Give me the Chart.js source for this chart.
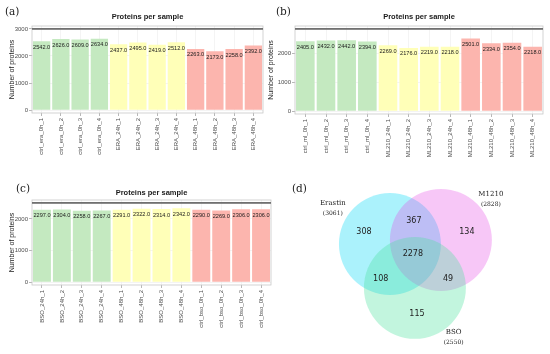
<!DOCTYPE html>
<html>
<head>
<meta charset="utf-8">
<script src="https://cdn.jsdelivr.net/npm/chart.js@4.4.0/dist/chart.umd.min.js"></script>
<style>
  html, body { margin: 0; padding: 0; background: #fff; }
  #wrap { position: relative; width: 550px; height: 354px; overflow: hidden; }
  canvas { position: absolute; }
  .tag { position: absolute; font-family: 'DejaVu Serif', serif; font-size: 10.5px; color: #222; line-height: 1; }
</style>
</head>
<body>
<div id="wrap">
  <canvas id="chartA" width="272" height="160" style="left:0;top:0"></canvas>
  <canvas id="chartB" width="284" height="160" style="left:266px;top:0"></canvas>
  <canvas id="chartC" width="280" height="184" style="left:0;top:170px"></canvas>
  <canvas id="venn" width="260" height="179" style="left:290px;top:175px"></canvas>
  <div class="tag" style="left:5px;top:6px">(a)</div>
  <div class="tag" style="left:276px;top:6px">(b)</div>
  <div class="tag" style="left:16px;top:183px">(c)</div>
  <div class="tag" style="left:292px;top:183px">(d)</div>
</div>
<script>
// --- data ---
const labelsA = ['ctrl_era_0h_1', 'ctrl_era_0h_2', 'ctrl_era_0h_3', 'ctrl_era_0h_4',
                 'ERA_24h_1', 'ERA_24h_2', 'ERA_24h_3', 'ERA_24h_4',
                 'ERA_48h_1', 'ERA_48h_2', 'ERA_48h_3', 'ERA_48h_4'];
const valuesA = [2542, 2626, 2609, 2634, 2437, 2495, 2419, 2512, 2263, 2173, 2258, 2392];

const labelsB = ['ctrl_ml_0h_1', 'ctrl_ml_0h_2', 'ctrl_ml_0h_3', 'ctrl_ml_0h_4',
                 'ML210_24h_1', 'ML210_24h_2', 'ML210_24h_3', 'ML210_24h_4',
                 'ML210_48h_1', 'ML210_48h_2', 'ML210_48h_3', 'ML210_48h_4'];
const valuesB = [2405, 2432, 2442, 2394, 2269, 2176, 2219, 2218, 2501, 2334, 2354, 2218];

const labelsC = ['BSO_24h_1', 'BSO_24h_2', 'BSO_24h_3', 'BSO_24h_4',
                 'BSO_48h_1', 'BSO_48h_2', 'BSO_48h_3', 'BSO_48h_4',
                 'ctrl_bso_0h_1', 'ctrl_bso_0h_2', 'ctrl_bso_0h_3', 'ctrl_bso_0h_4'];
const valuesC = [2297, 2304, 2258, 2267, 2291, 2322, 2314, 2342, 2290, 2269, 2306, 2306];

const yTickValues = [0, 1000, 2000, 3000];

// venn: set names, then region counts
const vennNames = ['Erastin', 'M1210', 'BSO'];
const onlyCounts = [308, 134, 115];           // E, M, B
const pairCounts = [367, 108, 49];            // E&M, E&B, M&B
const allCount = 2278;                        // E&M&B

const groupColors = ['#c4e9c0', '#ffffb8', '#fcb5ae'];
const barColors = [0,0,0,0,1,1,1,1,2,2,2,2].map(i => groupColors[i]);

const sans = "'Liberation Sans', Arial, sans-serif";

// titre + bordure du panneau + etiquettes de valeur
const panelPlugin = {
    id: 'panel',
    afterDatasetsDraw(chart, args, opts) {
        const ctx = chart.ctx;
        const a = chart.chartArea;
        ctx.save();
        // valeurs sur les barres
        ctx.font = '5.6px ' + sans;
        ctx.fillStyle = '#1a1a1a';
        ctx.textAlign = 'center';
        ctx.textBaseline = 'middle';
        const meta = chart.getDatasetMeta(0);
        meta.data.forEach((bar, i) => {
            const v = chart.data.datasets[0].data[i];
            ctx.fillText(v.toFixed(1), bar.x, bar.y + 6);
        });
        // bordure
        ctx.strokeStyle = '#c8c8c8';
        ctx.lineWidth = 0.8;
        ctx.strokeRect(a.left, a.top, a.right - a.left, a.bottom - a.top);
        ctx.fillStyle = '#707070';
        ctx.fillRect(a.left, a.top + 2, a.right - a.left, 1.8);
        // titre
        ctx.font = 'bold 7.5px ' + sans;
        ctx.fillStyle = '#1a1a1a';
        ctx.fillText(opts.title, (a.left + a.right) / 2, opts.titleY);
        ctx.restore();
    }
};

function barPanel(id, labels, values, cfg) {
    new Chart(document.getElementById(id), {
        type: 'bar',
        data: {
            labels: labels,
            datasets: [{
                data: values,
                backgroundColor: barColors,
                borderWidth: 0,
                barPercentage: 0.9,
                categoryPercentage: 1.0
            }]
        },
        options: {
            responsive: false,
            animation: false,
            events: [],
            layout: { padding: { left: 0, right: cfg.padRight, top: cfg.padTop, bottom: 0 } },
            plugins: {
                legend: { display: false },
                tooltip: { enabled: false },
                panel: { title: 'Proteins per sample', titleY: cfg.titleY }
            },
            scales: {
                x: {
                    offset: true,
                    grid: { offset: false, color: '#ececec', lineWidth: 0.6, tickLength: 3, tickColor: '#888', tickWidth: 0.6 },
                    border: { display: false },
                    ticks: { autoSkip: false, maxRotation: 90, minRotation: 90, padding: 2,
                             font: { size: 6, family: sans }, color: '#4d4d4d' },
                    afterFit: s => { s.height = cfg.xHeight; }
                },
                y: {
                    min: cfg.yMin,
                    max: cfg.yMax,
                    grid: { color: '#ececec', lineWidth: 0.6, tickLength: 3, tickColor: '#888', tickWidth: 0.6 },
                    border: { display: false },
                    ticks: { padding: 1, font: { size: 6, family: sans }, color: '#4d4d4d',
                             callback: v => String(v) },
                    afterBuildTicks: s => {
                        s.ticks = yTickValues.filter(v => v >= s.min && v <= s.max).map(v => ({ value: v }));
                    },
                    title: { display: true, text: 'Number of proteins', color: '#1a1a1a',
                             font: { size: 7, family: sans }, padding: { top: cfg.yTitlePad, bottom: 0 } },
                    afterFit: s => { s.width = cfg.yWidth; }
                }
            }
        },
        plugins: [panelPlugin]
    });
}

barPanel('chartA', labelsA, valuesA, { padRight: 9, padTop: 26, xHeight: 47, yWidth: 32, yMin: -110, yMax: 3110, titleY: 17, yTitlePad: 7.8 });
barPanel('chartB', labelsB, valuesB, { padRight: 7, padTop: 26, xHeight: 46, yWidth: 29, yMin: -103, yMax: 2931, titleY: 17, yTitlePad: 0.8 });
barPanel('chartC', labelsC, valuesC, { padRight: 9, padTop: 30, xHeight: 69, yWidth: 32, yMin: -95, yMax: 2603, titleY: 23, yTitlePad: 7.8 });

// --- venn (unites = rayon du cercle) ---
const vennCentres = [{ x: 0, y: 0 }, { x: 1.0, y: 0.08 }, { x: 0.49, y: -0.86 }];
const vennFill = ['rgba(0,215,245,0.33)', 'rgba(230,70,230,0.30)', 'rgba(69,226,154,0.33)'];
// positions des nombres: E, M, B, E&M, E&B, M&B, E&M&B
const regionPos = [[-0.51, 0.235], [1.51, 0.235], [0.53, -1.37], [0.47, 0.45], [-0.18, -0.686], [1.14, -0.686], [0.45, -0.196]];
const namePos = [[-1.12, 0.80], [1.98, 0.98], [1.25, -1.73]];

const totals = [
    onlyCounts[0] + pairCounts[0] + pairCounts[1] + allCount,
    onlyCounts[1] + pairCounts[0] + pairCounts[2] + allCount,
    onlyCounts[2] + pairCounts[1] + pairCounts[2] + allCount
];
const regionCounts = onlyCounts.concat(pairCounts, [allCount]);

const vennText = {
    id: 'vennText',
    afterDatasetsDraw(chart) {
        const ctx = chart.ctx;
        const sx = chart.scales.x, sy = chart.scales.y;
        ctx.save();
        ctx.textAlign = 'center';
        ctx.textBaseline = 'middle';
        ctx.fillStyle = '#222';
        ctx.font = "8px 'DejaVu Sans', sans-serif";
        regionCounts.forEach((n, i) => {
            ctx.fillText(String(n), sx.getPixelForValue(regionPos[i][0]), sy.getPixelForValue(regionPos[i][1]));
        });
        vennNames.forEach((name, i) => {
            const px = sx.getPixelForValue(namePos[i][0]);
            const py = sy.getPixelForValue(namePos[i][1]);
            ctx.font = "7px 'DejaVu Serif', serif";
            ctx.fillText(name, px, py);
            ctx.font = "6px 'DejaVu Serif', serif";
            ctx.fillText('(' + totals[i] + ')', px, py + 10);
        });
        ctx.restore();
    }
};

new Chart(document.getElementById('venn'), {
    type: 'scatter',
    data: {
        datasets: [{
            data: vennCentres,
            pointBackgroundColor: vennFill,
            pointBorderWidth: 0,
            clip: false,
            pointRadius: c => {
                const s = c.chart.scales.x;
                return Math.abs(s.getPixelForValue(1) - s.getPixelForValue(0));
            }
        }]
    },
    options: {
        responsive: false,
        animation: false,
        events: [],
        layout: { padding: 0 },
        plugins: { legend: { display: false }, tooltip: { enabled: false } },
        scales: {
            x: { display: false, min: -1.96, max: 3.14 },
            y: { display: false, min: -2.157, max: 1.353 }
        }
    },
    plugins: [vennText]
});
</script>
</body>
</html>
